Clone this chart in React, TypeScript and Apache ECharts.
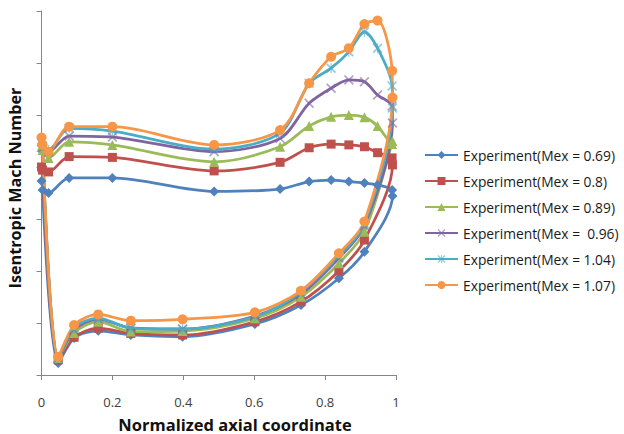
import React, { useEffect, useRef } from "react";
import * as echarts from "echarts";

const suctionX = [0, 0.02, 0.078, 0.2, 0.487, 0.673, 0.755, 0.817, 0.867, 0.911, 0.948, 0.989];
const pressureX = [0.99, 0.911, 0.839, 0.732, 0.602, 0.398, 0.252, 0.16, 0.092, 0.047, 0.003];

const names = [
  "Experiment(Mex = 0.69)",
  "Experiment(Mex = 0.8)",
  "Experiment(Mex = 0.89)",
  "Experiment(Mex =  0.96)",
  "Experiment(Mex = 1.04)",
  "Experiment(Mex = 1.07)",
];

const suction069 = [0.746, 0.700, 0.758, 0.758, 0.706, 0.715, 0.744, 0.750, 0.744, 0.738, 0.731, 0.712];
const pressure069 = [0.688, 0.474, 0.372, 0.269, 0.196, 0.147, 0.154, 0.170, 0.142, 0.046, 0.712];

const suction080 = [0.800, 0.781, 0.840, 0.837, 0.785, 0.818, 0.874, 0.888, 0.885, 0.878, 0.855, 0.835];
const pressure080 = [0.808, 0.519, 0.400, 0.282, 0.205, 0.154, 0.160, 0.180, 0.145, 0.058, 0.788];

const suction089 = [0.877, 0.835, 0.897, 0.885, 0.820, 0.878, 0.958, 0.993, 1.000, 0.991, 0.958, 0.888];
const pressure089 = [0.900, 0.551, 0.430, 0.301, 0.218, 0.169, 0.167, 0.205, 0.162, 0.065, 0.865];

const suction096 = [0.896, 0.858, 0.919, 0.915, 0.859, 0.910, 1.045, 1.103, 1.135, 1.128, 1.077, 1.035];
const pressure096 = [0.969, 0.573, 0.450, 0.312, 0.227, 0.177, 0.181, 0.215, 0.173, 0.065, 0.873];

const suction104 = [0.904, 0.865, 0.949, 0.938, 0.869, 0.930, 1.122, 1.180, 1.243, 1.320, 1.257, 1.112];
const pressure104 = [1.027, 0.581, 0.458, 0.319, 0.224, 0.176, 0.180, 0.219, 0.181, 0.065, 0.881];

const suction107 = [0.913, 0.859, 0.955, 0.955, 0.885, 0.942, 1.122, 1.224, 1.257, 1.350, 1.363, 1.170];
const pressure107 = [1.067, 0.590, 0.468, 0.324, 0.241, 0.214, 0.209, 0.233, 0.192, 0.070, 0.885];

const suctionSets = [suction069, suction080, suction089, suction096, suction104, suction107];
const pressureSets = [pressure069, pressure080, pressure089, pressure096, pressure104, pressure107];

const colors = ["#4F81BD", "#C0504D", "#9BBB59", "#8064A2", "#4BACC6", "#F79646"];

const xMark = "path://M0,1.2L1.2,0L5,3.8L8.8,0L10,1.2L6.2,5L10,8.8L8.8,10L5,6.2L1.2,10L0,8.8L3.8,5Z";
const starMark =
  "path://M0,1.2L1.2,0L5,3.8L8.8,0L10,1.2L6.2,5L10,8.8L8.8,10L5,6.2L1.2,10L0,8.8L3.8,5Z M4.4,0L5.6,0L5.6,10L4.4,10Z";
const symbols = ["diamond", "rect", "triangle", xMark, starMark, "circle"];
const sizes = [10, 9, 10, 10, 10, 10];

export default function App() {
  const ref = useRef<HTMLDivElement>(null);
  useEffect(() => {
    if (!ref.current) return;
    const chart = echarts.init(ref.current, null, { renderer: "svg" });
    const font = "'Open Sans', 'Liberation Sans', sans-serif";
    const series = names.map((name, k) => {
      const data = suctionX
        .map((x, i) => [x, suctionSets[k][i]])
        .concat(pressureX.map((x, i) => [x, pressureSets[k][i]]));
      return {
        name,
        type: "line",
        data,
        smooth: 0.3,
        symbol: symbols[k],
        symbolSize: sizes[k],
        showAllSymbol: true,
        lineStyle: { color: colors[k], width: 2.75 },
        itemStyle: { color: colors[k], opacity: k === 3 || k === 4 ? 0.6 : 1 },
        emphasis: { disabled: true },
      };
    });
    chart.setOption({
      animation: false,
      backgroundColor: "#ffffff",
      color: colors,
      grid: { left: 41.5, right: 228, top: 11, bottom: 59, containLabel: false },
      xAxis: {
        type: "value",
        min: 0,
        max: 1,
        interval: 0.2,
        axisLine: { lineStyle: { color: "#868686", width: 1 } },
        axisTick: { show: true, inside: false, length: 5, lineStyle: { color: "#868686" } },
        axisLabel: {
          color: "#404040",
          fontSize: 13,
          fontFamily: font,
          margin: 20,
          formatter: (v: number) => String(Math.round(v * 10) / 10),
        },
        splitLine: { show: false },
      },
      yAxis: {
        type: "value",
        min: 0,
        max: 1.4,
        interval: 0.2,
        axisLine: { show: true, lineStyle: { color: "#868686", width: 1 } },
        axisTick: { show: true, inside: false, length: 5, lineStyle: { color: "#868686" } },
        axisLabel: { show: false },
        splitLine: { show: false },
      },
      legend: {
        orient: "vertical",
        left: 424,
        top: 146,
        padding: 0,
        itemWidth: 33,
        itemHeight: 10,
        itemGap: 8,
        data: names,
        textStyle: { color: "#1a1a1a", fontSize: 13.8, fontFamily: font, lineHeight: 18 },
      },
      graphic: [
        {
          type: "text",
          x: 235,
          y: 424,
          style: {
            text: "Normalized axial coordinate",
            font: "bold 16.5px " + font,
            fill: "#111111",
            align: "center",
            verticalAlign: "middle",
          },
        },
        {
          type: "text",
          x: 15,
          y: 188,
          rotation: Math.PI / 2,
          style: {
            text: "Isentropic Mach Number",
            font: "bold 16.2px " + font,
            fill: "#111111",
            align: "center",
            verticalAlign: "middle",
          },
        },
      ],
      series,
    });
    return () => chart.dispose();
  }, []);
  return <div ref={ref} style={{ width: 624, height: 434, position: "absolute", left: 0, top: 0 }} />;
}
